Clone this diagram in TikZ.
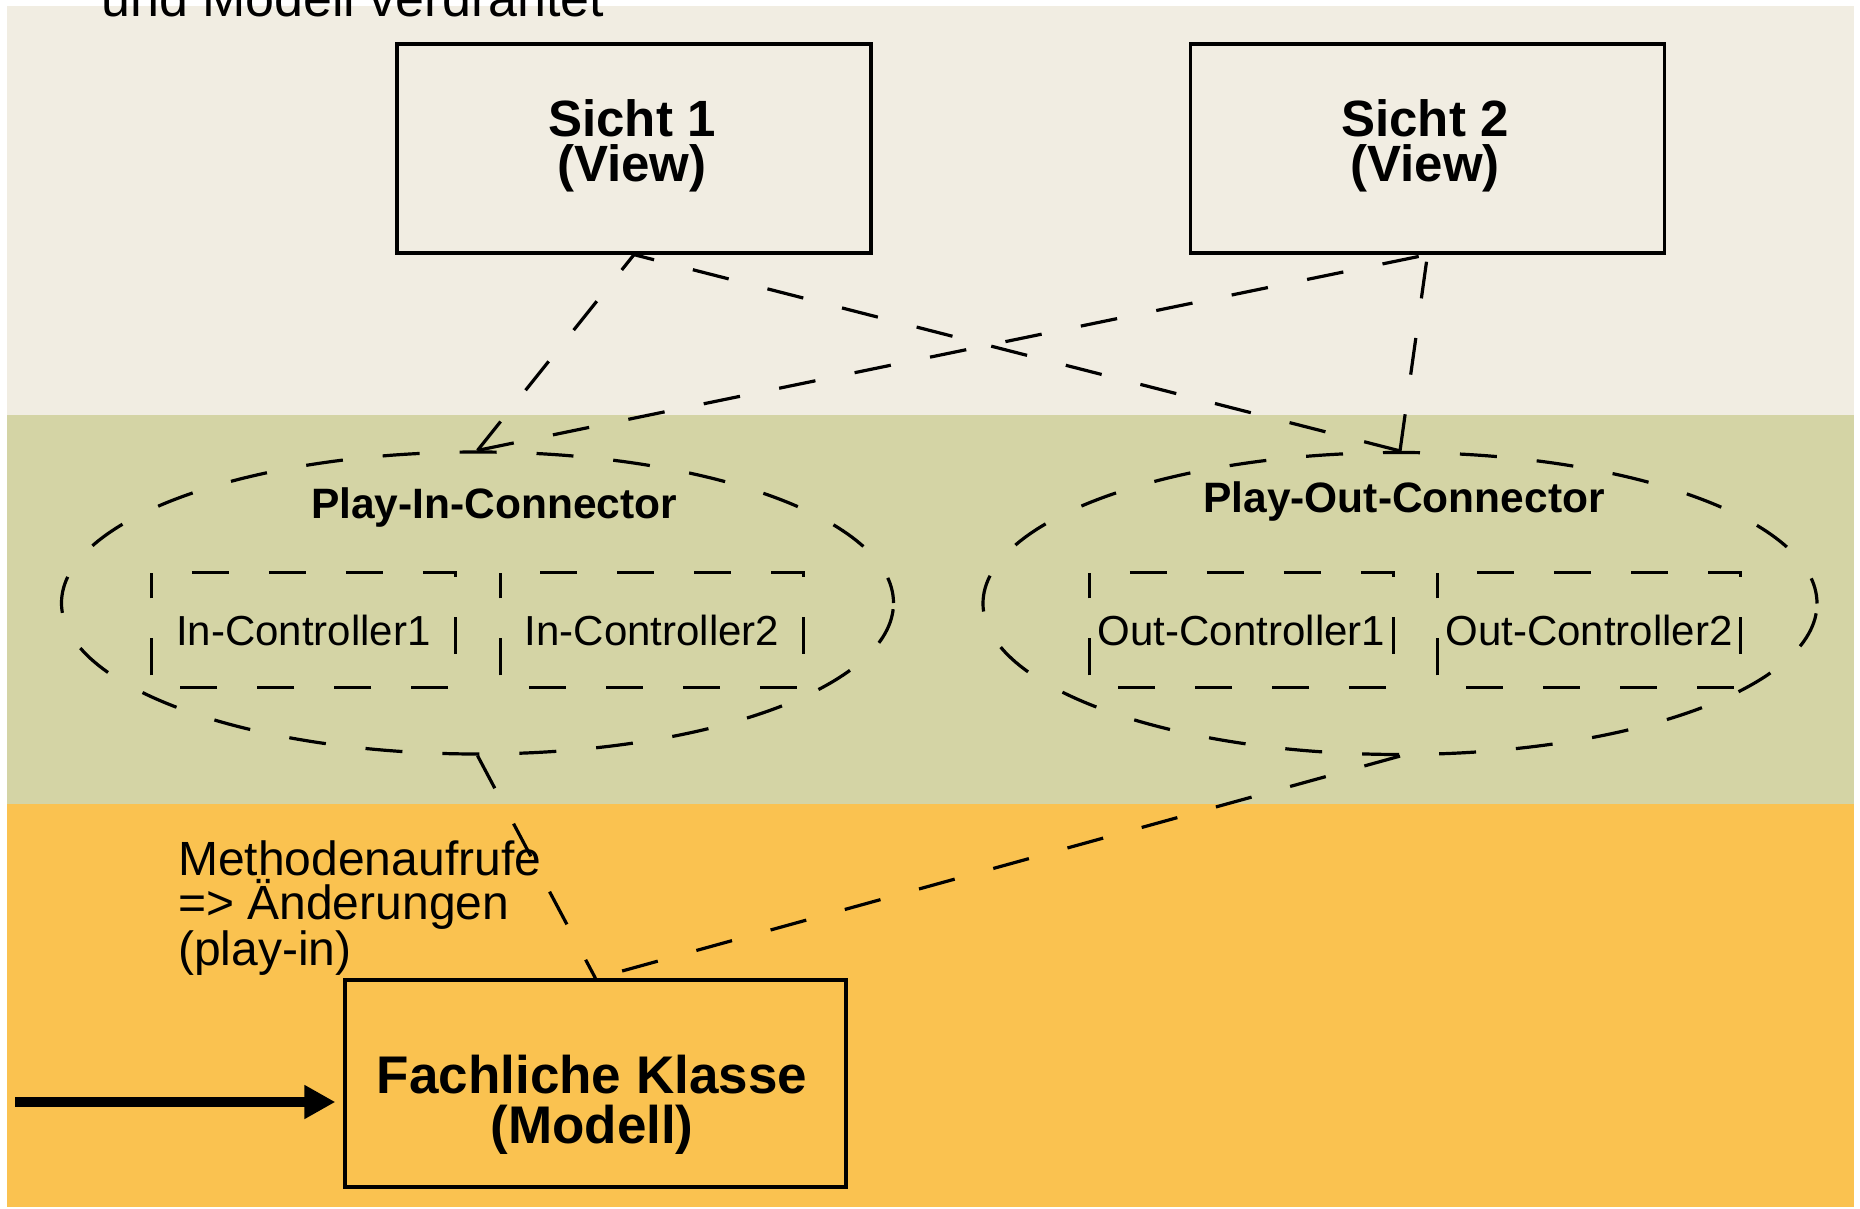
\documentclass[tikz,border=0pt]{standalone}
\usepackage{fontspec}
\setmainfont{Liberation Sans}
\usetikzlibrary{shapes.geometric,arrows.meta}

\definecolor{viewbg}{RGB}{241,237,226}
\definecolor{ctrlbg}{RGB}{212,212,165}
\definecolor{modelbg}{RGB}{250,194,80}

\tikzset{
  solidbox/.style={draw, line width=3.3pt, inner sep=0pt},
  viewbox/.style={solidbox, minimum width=474pt, minimum height=209pt},
  connector/.style={ellipse, draw, line width=3.2pt, inner sep=0pt,
    dash pattern=on 37pt off 40pt, dash phase=11pt},
  ctrl/.style={inner sep=0pt, minimum width=303pt, minimum height=114pt,
    font=\fontsize{42}{48}\selectfont},
  ctrlframe/.style={line width=3.2pt, dash pattern=on 37pt off 40pt, dash phase=37pt},
  link/.style={line width=3.2pt, dash pattern=on 37pt off 40pt},
  titlefont/.style={inner sep=0pt, align=center, font=\fontsize{51}{45}\bfseries\selectfont},
  connfont/.style={inner sep=0pt, font=\fontsize{42.5}{48}\bfseries\selectfont},
}

\begin{document}
\begin{tikzpicture}[x=1pt, y=-1pt]
  \useasboundingbox (0,0) rectangle (1860,1209);
  \clip (0,0) rectangle (1860,1209);
  \fill[white] (0,0) rectangle (1860,1209);

  % layer bands
  \fill[viewbg]  (7,6)   rectangle (1854,415);
  \fill[ctrlbg]  (7,415) rectangle (1854,804);
  \fill[modelbg] (7,804) rectangle (1854,1207);

  \node[anchor=base west, inner sep=0pt, font=\fontsize{52}{58}\selectfont]
    (wiring) at (101,17) {und Modell verdrahtet};

  % views (base anchor = baseline of the last line)
  \node[viewbox] (s1) at (634,148.5) {};
  \node[viewbox] (s2) at (1427.5,148.5) {};
  \node[titlefont, anchor=base] (s1t) at (632,182) {Sicht 1\\(View)};
  \node[titlefont, anchor=base] (s2t) at (1425,182) {Sicht 2\\(View)};

  % connectors
  \node[connector, minimum width=832pt, minimum height=302pt] (pin) at (477.5,603) {};
  \node[connector, minimum width=834pt, minimum height=302pt] (pout) at (1400,603.5) {};
  \node[connfont, anchor=base] (pinl) at (494,518) {Play-In-Connector};
  \node[connfont, anchor=base] (poutl) at (1404,512) {Play-Out-Connector};

  % controllers
  \node[ctrl] (ic1) at (303.5,630) {In-Controller1};
  \node[ctrl] (ic2) at (652,630) {In-Controller2};
  \node[ctrl] (oc1) at (1241.5,630) {Out-Controller1};
  \node[ctrl] (oc2) at (1589,630) {Out-Controller2};
  \foreach \c in {ic1,ic2,oc1,oc2}
    \draw[ctrlframe] (\c.north west) -- (\c.north east) -- (\c.south east)
      -- (\c.south west) -- cycle;

  % model
  \node[solidbox, minimum width=501pt, minimum height=207pt] (model) at (595.5,1083.5) {};
  \node[titlefont, font=\fontsize{53}{50}\bfseries\selectfont, anchor=base]
    (modelt) at (592,1143) {Fachliche Klasse\\(Modell)};

  \node[anchor=base west, inner sep=0pt, align=left, font=\fontsize{48}{44}\selectfont]
    (calls) at (178,965) {Methodenaufrufe\\=> Änderungen\\(play-in)};

  % dashed links
  \draw[link] (pin.north) -- (s1.south);
  \draw[link] (pout.north) -- (s1.south);
  \draw[link] (pin.north) -- (s2.south);
  \draw[link] (pout.north) -- (s2.south);
  \draw[link] (pin.south) -- (model.north);
  \draw[link] (pout.south) -- (model.north);

  % incoming call
  \coordinate (src) at (15,1102);
  \draw[line width=10pt, -{Triangle[length=31pt,width=32pt]}, shorten >=8pt]
    (src) -- (src -| model.west);
\end{tikzpicture}
\end{document}
